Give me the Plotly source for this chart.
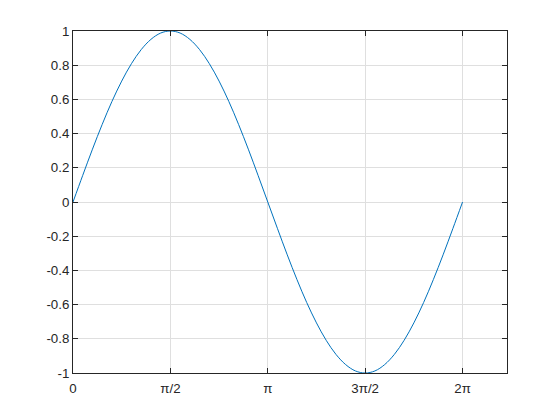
import plotly.graph_objects as go

x_vals = [0.0, 0.1571, 0.3142, 0.4712, 0.6283, 0.7854, 0.9425, 1.0996, 1.2566, 1.4137,
          1.5708, 1.7279, 1.885, 2.042, 2.1991, 2.3562, 2.5133, 2.6704, 2.8274, 2.9845,
          3.1416, 3.2987, 3.4558, 3.6128, 3.7699, 3.927, 4.0841, 4.2412, 4.3982, 4.5553,
          4.7124, 4.8695, 5.0265, 5.1836, 5.3407, 5.4978, 5.6549, 5.8119, 5.969, 6.1261,
          6.2832]
y_vals = [0.0, 0.156, 0.309, 0.454, 0.588, 0.707, 0.809, 0.891, 0.951, 0.988,
          1.0, 0.988, 0.951, 0.891, 0.809, 0.707, 0.588, 0.454, 0.309, 0.156,
          0.0, -0.156, -0.309, -0.454, -0.588, -0.707, -0.809, -0.891, -0.951, -0.988,
          -1.0, -0.988, -0.951, -0.891, -0.809, -0.707, -0.588, -0.454, -0.309, -0.156,
          0.0]

x_tickvals = [0.0, 1.5708, 3.1416, 4.7124, 6.2832]
x_ticktext = ["0", "π/2", "π", "3π/2", "2π"]
y_tickvals = [-1.0, -0.8, -0.6, -0.4, -0.2, 0.0, 0.2, 0.4, 0.6, 0.8, 1.0]
y_ticktext = ["-1", "-0.8", "-0.6", "-0.4", "-0.2", "0", "0.2", "0.4", "0.6", "0.8", "1"]

fig = go.Figure()
fig.add_trace(go.Scatter(x=x_vals, y=y_vals, mode="lines",
                         line=dict(color="#0072BD", width=1, shape="spline"),
                         showlegend=False, hoverinfo="skip"))

axis_common = dict(
    showline=True, linecolor="#262626", linewidth=1, mirror="ticks",
    ticks="inside", ticklen=5, tickcolor="#262626", tickwidth=1,
    showgrid=True, gridcolor="#dfdfdf", gridwidth=1, zeroline=False,
    tickfont=dict(family="Liberation Sans, Arial, sans-serif", size=13.3, color="#262626"),
)

fig.update_xaxes(range=[0, 7], tickmode="array", tickvals=x_tickvals, ticktext=x_ticktext,
                 ticklabelstandoff=3, **axis_common)
fig.update_yaxes(range=[-1, 1], tickmode="array", tickvals=y_tickvals, ticktext=y_ticktext,
                 **axis_common)

fig.update_layout(
    width=560, height=420,
    margin=dict(l=65, r=61, t=23, b=55),
    paper_bgcolor="white", plot_bgcolor="white",
)

fig.write_html("out.html")
